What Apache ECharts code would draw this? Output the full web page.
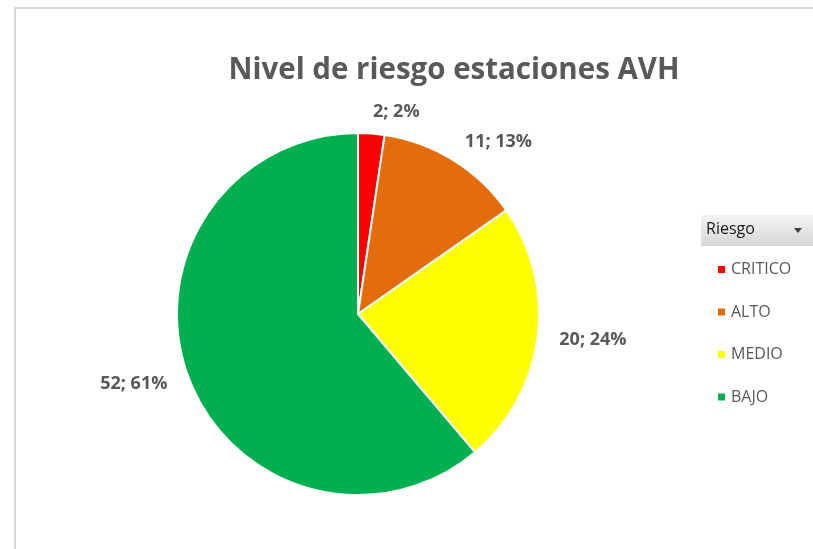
<!DOCTYPE html>
<html>
<head>
<meta charset="utf-8">
<script src="https://cdn.jsdelivr.net/npm/echarts@6/dist/echarts.min.js"></script>
<style>
  html, body { margin: 0; padding: 0; background: #fff; }
  #chart { width: 813px; height: 549px; }
</style>
</head>
<body>
<div id="chart"></div>
<script>
const categories = ['CRITICO', 'ALTO', 'MEDIO', 'BAJO'];
const values = [2, 11, 20, 52];
const colors = ['#FF0000', '#E46C0A', '#FFFF00', '#00B050'];

const font = '"Open Sans", "Noto Sans", sans-serif';

var myChart = echarts.init(document.getElementById('chart'));

myChart.setOption({
  animation: false,
  textStyle: {fontFamily: font, color: '#595959'},
  title: {
    text: 'Nivel de riesgo estaciones AVH',
    left: 449,
    top: 51,
    textAlign: 'center',
    textStyle: {fontSize: 29.5, fontWeight: 'bold', color: '#595959', fontFamily: font}
  },
  legend: {
    orient: 'vertical',
    left: 711,
    top: 256,
    icon: 'rect',
    itemWidth: 9,
    itemHeight: 9,
    itemGap: 25.5,
    data: categories,
    textStyle: {fontSize: 16, color: '#595959', lineHeight: 17, fontFamily: font}
  },
  graphic: [
    {
      type: 'rect',
      shape: {x: 15, y: 8, width: 820, height: 560},
      style: {fill: 'none', stroke: '#d9d9d9', lineWidth: 2},
      silent: true
    },
    {
      type: 'rect',
      shape: {x: 701, y: 215, width: 120, height: 31},
      style: {
        fill: new echarts.graphic.LinearGradient(0, 0, 0, 1, [
          {offset: 0, color: '#f4f4f4'},
          {offset: 1, color: '#d6d6d6'}
        ]),
        stroke: 'none'
      }
    },
    {
      type: 'text',
      left: 706,
      top: 221,
      style: {text: 'Riesgo', fontSize: 16, fill: '#1a1a1a', fontFamily: font}
    },
    {
      type: 'polygon',
      shape: {points: [[794, 228], [802, 228], [798, 233]]},
      style: {fill: '#404040'}
    }
  ],
  series: [{
    type: 'pie',
    center: [358, 314],
    radius: 181,
    startAngle: 90,
    clockwise: true,
    data: categories.map((c, i) => ({name: c, value: values[i], itemStyle: {color: colors[i]}})),
    itemStyle: {borderColor: '#fff', borderWidth: 2},
    label: {
      position: 'outside',
      distanceToLabelLine: 0,
      formatter: (p) => p.value + '; ' + Math.round(p.percent) + '%',
      fontSize: 18,
      fontWeight: 'bold',
      color: '#595959',
      fontFamily: font
    },
    labelLine: {show: false, length: 22, length2: 0}
  }]
});
</script>
</body>
</html>
